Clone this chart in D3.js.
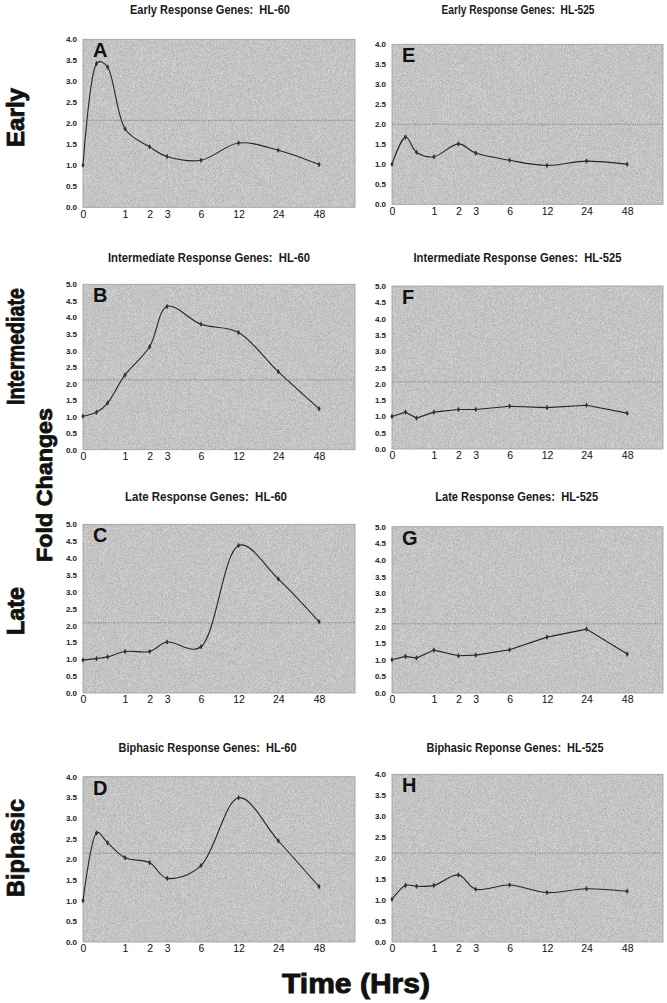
<!DOCTYPE html>
<html>
<head>
<meta charset="utf-8">
<script src="https://cdn.jsdelivr.net/npm/d3@7"></script>
<style>
  html, body { margin: 0; padding: 0; background: #ffffff; }
  svg { display: block; }
  text { white-space: pre; }
</style>
</head>
<body>
<svg id="chart" width="667" height="1003"></svg>
<script>
// ---------------- data ----------------
const times = [0, 0.25, 0.5, 1, 2, 3, 6, 12, 24, 48];
const tickTimes = [0, 1, 2, 3, 6, 12, 24, 48];
const rowNames = ["Early", "Intermediate", "Late", "Biphasic"];
const letters = [["A", "E"], ["B", "F"], ["C", "G"], ["D", "H"]];
const titles = [
  ["Early Response Genes:  HL-60", "Early Response Genes:  HL-525"],
  ["Intermediate Response Genes:  HL-60", "Intermediate Response Genes:  HL-525"],
  ["Late Response Genes:  HL-60", "Late Response Genes:  HL-525"],
  ["Biphasic Response Genes:  HL-60", "Biphasic Reponse Genes:  HL-525"]
];
const yMaxByRow = [4, 5, 5, 4];

const hl60Early        = [1.00, 3.42, 3.34, 1.87, 1.44, 1.21, 1.12, 1.53, 1.36, 1.02];
const hl525Early       = [1.00, 1.68, 1.30, 1.19, 1.51, 1.28, 1.10, 0.97, 1.08, 1.00];
const hl60Intermediate = [1.01, 1.13, 1.41, 2.26, 3.11, 4.33, 3.79, 3.54, 2.36, 1.24];
const hl525Intermediate= [1.00, 1.13, 0.95, 1.13, 1.21, 1.21, 1.31, 1.27, 1.34, 1.10];
const hl60Late         = [0.98, 1.02, 1.07, 1.23, 1.23, 1.51, 1.37, 4.37, 3.38, 2.11];
const hl525Late        = [1.00, 1.10, 1.05, 1.29, 1.12, 1.14, 1.30, 1.68, 1.92, 1.17];
const hl60Biphasic     = [1.00, 2.64, 2.40, 2.04, 1.92, 1.54, 1.85, 3.49, 2.45, 1.34];
const hl525Biphasic    = [1.02, 1.35, 1.33, 1.35, 1.60, 1.26, 1.36, 1.18, 1.27, 1.21];

const seriesGrid = [
  [hl60Early, hl525Early],
  [hl60Intermediate, hl525Intermediate],
  [hl60Late, hl525Late],
  [hl60Biphasic, hl525Biphasic]
];
const thresholds = [[2.07, 2.00], [2.11, 2.06], [2.08, 2.08], [2.15, 2.12]];
const smoothGrid = [[true, true], [true, false], [true, false], [true, true]];

// ---------------- layout ----------------
const colLeft = [83, 392], colRight = [355, 663];
const boxTop = [[39.3, 44.3], [284.3, 286], [524.3, 526.7], [776.7, 774.3]];
const boxBottom = [[207.3, 204.3], [449.7, 449], [693, 693], [942, 942]];
const titleY = [14, 262, 501, 752];
const titleX = [[210, 518], [209, 517.5], [206, 516.7], [207.5, 515]];
const titleW = [[160, 153], [202, 208], [162, 163], [178, 177]];
const rowLabelY = [117.5, 346.5, 611, 848];
const rowLabelW = [59, 117, 48, 98];
const xMaxLog = Math.pow(2, 6.47); // right edge of plot area in (t+1)

const svg = d3.select("#chart");
const defs = svg.append("defs");
const f = defs.append("filter").attr("id", "grain")
  .attr("x", 0).attr("y", 0).attr("width", "100%").attr("height", "100%")
  .attr("color-interpolation-filters", "sRGB");
f.append("feTurbulence").attr("type", "fractalNoise").attr("baseFrequency", 1.4)
  .attr("numOctaves", 1).attr("seed", 7).attr("result", "noise");
f.append("feColorMatrix").attr("in", "noise").attr("type", "saturate").attr("values", 0).attr("result", "g");
const ct = f.append("feComponentTransfer").attr("in", "g").attr("result", "gg");
ct.append("feFuncR").attr("type", "linear").attr("slope", 0.42).attr("intercept", 0.56);
ct.append("feFuncG").attr("type", "linear").attr("slope", 0.42).attr("intercept", 0.56);
ct.append("feFuncB").attr("type", "linear").attr("slope", 0.42).attr("intercept", 0.56);
ct.append("feFuncA").attr("type", "linear").attr("slope", 0).attr("intercept", 1);
f.append("feComposite").attr("in", "gg").attr("in2", "SourceGraphic").attr("operator", "in");

const narrow = "'Liberation Sans Narrow', 'Arial Narrow', 'Liberation Sans', Arial, sans-serif";
const sans = "'Liberation Sans', Arial, sans-serif";

for (let r = 0; r < 4; r++) {
  for (let c = 0; c < 2; c++) {
    const left = colLeft[c], right = colRight[c];
    const top = boxTop[r][c], bottom = boxBottom[r][c];
    const yMax = yMaxByRow[r];
    const x = d3.scaleLog().domain([1, xMaxLog]).range([left, right]);
    const y = d3.scaleLinear().domain([0, yMax]).range([bottom, top]);
    const g = svg.append("g");

    // plot area
    g.append("rect").attr("x", left).attr("y", top)
      .attr("width", right - left).attr("height", bottom - top)
      .attr("fill", "#c4c4c4").attr("filter", "url(#grain)");
    g.append("rect").attr("x", left).attr("y", top)
      .attr("width", right - left).attr("height", bottom - top)
      .attr("fill", "none").attr("stroke", "#9c9c9c").attr("stroke-width", 0.8);

    // threshold line
    g.append("line").attr("x1", left).attr("x2", right)
      .attr("y1", y(thresholds[r][c])).attr("y2", y(thresholds[r][c]))
      .attr("stroke", "#777").attr("stroke-width", 0.7).attr("stroke-dasharray", "1.5,1");

    // y axis labels
    const yAxis = d3.axisLeft(y).tickValues(d3.range(0, yMax + 0.001, 0.5))
      .tickFormat(d3.format(".1f")).tickSize(0).tickPadding(6);
    const ya = g.append("g").attr("transform", `translate(${left},0)`).call(yAxis);
    ya.select(".domain").remove();
    ya.selectAll("text").attr("font-family", narrow).attr("font-weight", "bold")
      .attr("font-size", 8).attr("fill", "#222");

    // x axis labels
    const xAxis = d3.axisBottom(x).tickValues(tickTimes.map(t => t + 1))
      .tickFormat(v => String(Math.round(v - 1))).tickSize(0).tickPadding(3);
    const xa = g.append("g").attr("transform", `translate(0,${bottom})`).call(xAxis);
    xa.select(".domain").remove();
    xa.selectAll("text").attr("font-family", sans).attr("font-size", 10.5).attr("fill", "#111");

    // line
    const data = times.map((t, i) => ({ t, v: seriesGrid[r][c][i] }));
    const line = d3.line().x(d => x(d.t + 1)).y(d => y(d.v))
      .curve(smoothGrid[r][c] ? d3.curveCatmullRom.alpha(0.35) : d3.curveLinear);
    g.append("path").datum(data).attr("d", line)
      .attr("fill", "none").attr("stroke", "#262626").attr("stroke-width", 1.1);
    g.selectAll(".pt").data(data).enter().append("path")
      .attr("transform", d => `translate(${x(d.t + 1)},${y(d.v)})`)
      .attr("d", d3.symbol().type(d3.symbolDiamond).size(9))
      .attr("fill", "#333");

    // panel letter
    g.append("text").attr("x", left + 10).attr("y", top + 18)
      .attr("font-family", sans).attr("font-weight", "bold").attr("font-size", 20)
      .attr("fill", "#111").text(letters[r][c]);

    // title
    svg.append("text").attr("x", titleX[r][c]).attr("y", titleY[r])
      .attr("text-anchor", "middle").attr("font-family", narrow).attr("font-weight", "bold")
      .attr("font-size", 12).attr("fill", "#1a1a1a")
      .attr("textLength", titleW[r][c]).attr("lengthAdjust", "spacingAndGlyphs")
      .text(titles[r][c]);
  }
  // row label
  svg.append("text")
    .attr("transform", `translate(24,${rowLabelY[r]}) rotate(-90)`)
    .attr("text-anchor", "middle").attr("font-family", sans).attr("font-weight", "bold")
    .attr("font-size", 23).attr("fill", "#111").attr("stroke", "#111").attr("stroke-width", 0.8)
    .attr("textLength", rowLabelW[r]).attr("lengthAdjust", "spacingAndGlyphs")
    .text(rowNames[r]);
}

// shared axis titles
svg.append("text")
  .attr("transform", "translate(52,485) rotate(-90)")
  .attr("text-anchor", "middle").attr("font-family", sans).attr("font-weight", "bold")
  .attr("font-size", 22).attr("fill", "#111").attr("stroke", "#111").attr("stroke-width", 0.8)
  .attr("textLength", 154).attr("lengthAdjust", "spacingAndGlyphs")
  .text("Fold Changes");
svg.append("text")
  .attr("x", 356).attr("y", 993)
  .attr("text-anchor", "middle").attr("font-family", sans).attr("font-weight", "bold")
  .attr("font-size", 27).attr("fill", "#111").attr("stroke", "#111").attr("stroke-width", 0.9)
  .attr("textLength", 148).attr("lengthAdjust", "spacingAndGlyphs")
  .text("Time (Hrs)");
</script>
</body>
</html>
